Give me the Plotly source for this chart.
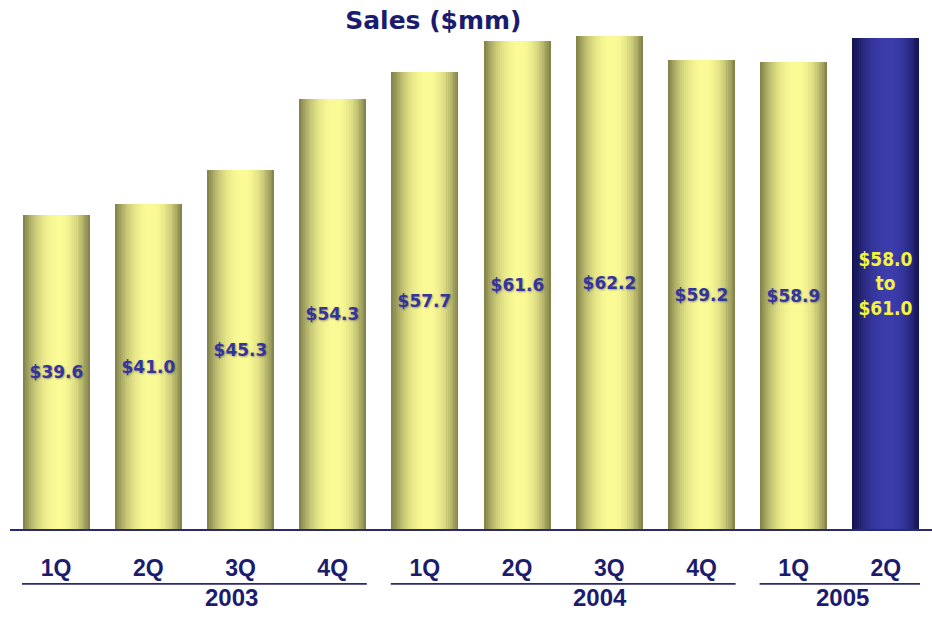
import plotly.graph_objects as go

# ---- data ----
quarters = ["1Q", "2Q", "3Q", "4Q", "1Q", "2Q", "3Q", "4Q", "1Q", "2Q"]
years = ["2003", "2003", "2003", "2003", "2004", "2004", "2004", "2004", "2005", "2005"]
sales = [39.6, 41.0, 45.3, 54.3, 57.7, 61.6, 62.2, 59.2, 58.9, 62.0]
value_labels = ["$39.6", "$41.0", "$45.3", "$54.3", "$57.7", "$61.6", "$62.2",
                "$59.2", "$58.9", "$58.0<br>to<br>$61.0"]
is_guidance = [False, False, False, False, False, False, False, False, False, True]

x = list(range(len(quarters)))

# ---- style ----
NAVY = "#1c1c6e"
W = 0.725          # bar width in category units
C = 0.03           # highlight centre offset
N = 18             # gradient layers

yellow_edge = (0x84, 0x84, 0x4c)
yellow_mid = (0xfb, 0xfb, 0x96)
navy_edge = (0x14, 0x14, 0x52)
navy_mid = (0x3c, 0x3c, 0xac)


def mix(a, b, f):
    return "rgb(%d,%d,%d)" % tuple(round(a[i] + (b[i] - a[i]) * f) for i in range(3))


fig = go.Figure()
for k in range(N):
    s = k / N
    left = -W / 2 + s * (C + W / 2)
    right = W / 2 - s * (W / 2 - C)
    f = 1 - (1 - s) ** 2.3
    cols = [mix(navy_edge, navy_mid, f) if g else mix(yellow_edge, yellow_mid, f)
            for g in is_guidance]
    fig.add_trace(go.Bar(
        x=x, y=sales, width=right - left, offset=left,
        marker=dict(color=cols, line=dict(width=0)),
        hoverinfo="skip", showlegend=False,
    ))

# label trace (transparent)
txt_colors = ["#f4f43c" if g else "#34349c" for g in is_guidance]
txt_family = ["Liberation Sans Narrow, DejaVu Sans Condensed, Arial Narrow, sans-serif" if g
              else "DejaVu Sans, Verdana, sans-serif" for g in is_guidance]
txt_size = [19 if g else 17 for g in is_guidance]
txt_shadow = ["none" if g else "1px 1px 2px rgba(90,90,90,0.55)" for g in is_guidance]
fig.add_trace(go.Bar(
    x=x, y=sales, width=W, offset=-W / 2,
    marker=dict(color="rgba(0,0,0,0)", line=dict(width=0)),
    text=value_labels, textposition="inside", insidetextanchor="middle",
    textangle=0, constraintext="none",
    insidetextfont=dict(color=txt_colors, family=txt_family, size=txt_size,
                        weight="bold", shadow=txt_shadow),
    hoverinfo="skip", showlegend=False,
))

# year groups
groups = []
for i, yv in enumerate(years):
    if groups and groups[-1][0] == yv:
        groups[-1][2] = i
    else:
        groups.append([yv, i, i])

label_shift = {"2003": 0.4, "2004": 0.4, "2005": 0.03}
gap = 0.13
shapes = []
annotations = []
for yv, i0, i1 in groups:
    shapes.append(dict(type="line", xref="x", yref="paper",
                       x0=i0 - 0.5 + gap, x1=i1 + 0.5 - gap,
                       y0=-0.110, y1=-0.110,
                       line=dict(color="#2a2a70", width=1.6)))
    annotations.append(dict(text=yv, xref="x", yref="paper",
                            x=(i0 + i1) / 2 + label_shift[yv], y=-0.137,
                            xanchor="center", yanchor="middle", showarrow=False,
                            font=dict(family="Liberation Sans, Arial, sans-serif",
                                      size=24, color=NAVY, weight="bold")))

fig.update_layout(
    width=932, height=624, autosize=False,
    margin=dict(l=10, r=0, t=30, b=95),
    paper_bgcolor="white", plot_bgcolor="white",
    barmode="overlay", bargap=0,
    title=dict(text="<b>Sales ($mm)</b>", x=0.465, xanchor="center",
               y=0.967, yanchor="middle",
               font=dict(family="DejaVu Sans, Verdana, sans-serif", size=25, color=NAVY)),
    xaxis=dict(range=[-0.5, len(x) - 0.5], tickmode="array", tickvals=x,
               ticktext=quarters, showgrid=False, zeroline=False,
               showline=True, linecolor="#2a2a70", linewidth=2,
               ticks="", ticklabelstandoff=17,
               tickfont=dict(family="Liberation Sans, Arial, sans-serif",
                             size=23, color=NAVY, weight="bold")),
    yaxis=dict(range=[0, 63.0], visible=False, showgrid=False, zeroline=False),
    shapes=shapes, annotations=annotations,
)

fig.write_html("out.html", config={"displayModeBar": False},
               post_script="document.body.style.margin='0';")
